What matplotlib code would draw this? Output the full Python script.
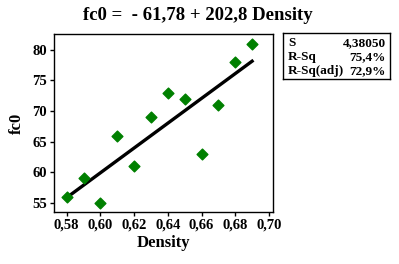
import numpy as np
import matplotlib.pyplot as plt

# 數據
density = [0.58, 0.59, 0.60, 0.61, 0.62, 0.63, 0.64, 0.65, 0.66, 0.67, 0.68, 0.69]
fc0 = [56, 59, 55, 66, 61, 69, 73, 72, 63, 71, 78, 81]
xticks = [0.58, 0.60, 0.62, 0.64, 0.66, 0.68, 0.70]
yticks = [55, 60, 65, 70, 75, 80]
stat_names = ['S', 'R-Sq', 'R-Sq(adj)']
stat_values = ['4,38050', '75,4%', '72,9%']

plt.rcParams['font.family'] = ['Liberation Serif', 'DejaVu Serif']
plt.rcParams['font.weight'] = 'bold'

fig = plt.figure(figsize=(3.99, 2.64), dpi=100)
ax = fig.add_axes([54 / 399, 1 - 212 / 264, 219 / 399, 178 / 264])

# 迴歸線
slope, intercept = np.polyfit(density, fc0, 1)
xs = np.array([min(density), max(density)])
ax.plot(xs, intercept + slope * xs, color='black', linewidth=2.4, zorder=2)
ax.scatter(density, fc0, marker='D', s=30, color='#008000', zorder=3)

ax.set_xlim(0.5725, 0.7024)
ax.set_ylim(53.5, 82.6)
ax.set_xticks(xticks)
ax.set_xticklabels([f'{t:.2f}'.replace('.', ',') for t in xticks])
ax.set_yticks(yticks)
ax.tick_params(direction='out', length=3, width=1, labelsize=10.5, pad=2)
for lbl in ax.get_xticklabels() + ax.get_yticklabels():
    lbl.set_fontweight('bold')
ax.set_xlabel('Density', fontsize=12, fontweight='bold', labelpad=2)
ax.set_ylabel('fc0', fontsize=12, fontweight='bold', labelpad=5)
for sp in ax.spines.values():
    sp.set_linewidth(1)

fig.text(198 / 399, 1 - 15 / 264, 'fc0 =  - 61,78 + 202,8 Density',
         ha='center', va='center', fontsize=13.5, fontweight='bold')

# 統計方塊
box = fig.add_axes([283 / 399, 1 - 79 / 264, 107 / 399, 46 / 264])
box.set_xticks([])
box.set_yticks([])
for sp in box.spines.values():
    sp.set_linewidth(1)
for y, n, v in zip([0.78, 0.47, 0.17], stat_names, stat_values):
    box.text(0.045, y, n, transform=box.transAxes, ha='left', va='center',
             fontsize=9.5, fontweight='bold')
    box.text(0.96, y, v, transform=box.transAxes, ha='right', va='center',
             fontsize=9.5, fontweight='bold')

fig.savefig('out.png', dpi=100)
